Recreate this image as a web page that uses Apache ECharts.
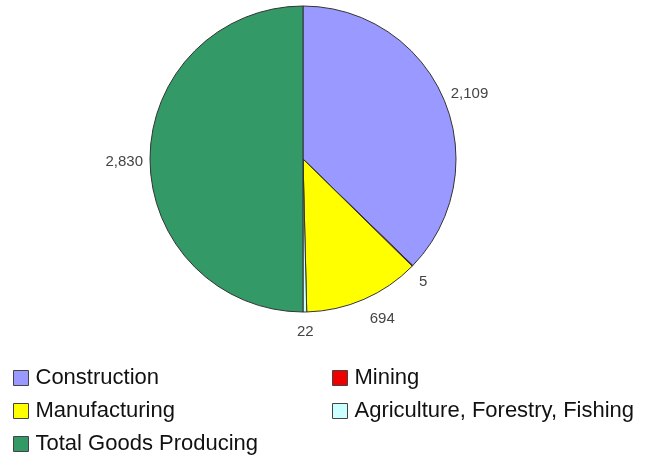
<!DOCTYPE html>
<html>
<head>
<meta charset="utf-8">
<script src="https://cdn.jsdelivr.net/npm/echarts@6/dist/echarts.min.js"></script>
<style>
  html, body { margin: 0; padding: 0; background: #fff; }
  #chart { width: 647px; height: 458px; }
</style>
</head>
<body>
<div id="chart"></div>
<script>
// Goods-producing employment by sector
const categories = ['Construction', 'Mining', 'Manufacturing', 'Agriculture, Forestry, Fishing', 'Total Goods Producing'];
const values = [2109, 5, 694, 22, 2830];
const colors = ['#9999ff', '#ee0000', '#ffff00', '#ccffff', '#339966'];

// Legend grid: two columns, entries listed row by row
const legendCells = [
  { name: 'Construction', col: 0, row: 0 },
  { name: 'Mining', col: 1, row: 0 },
  { name: 'Manufacturing', col: 0, row: 1 },
  { name: 'Agriculture, Forestry, Fishing', col: 1, row: 1 },
  { name: 'Total Goods Producing', col: 0, row: 2 }
];
const legendColX = [13, 332];
const legendRowTop = 367;
const legendRowStep = 33;

// Small offsets that drop the lower labels clear of the rim
const labelNudge = {
  'Mining': [0, 15],
  'Manufacturing': [0, 18],
  'Agriculture, Forestry, Fishing': [-13, 18],
  'Total Goods Producing': [0, 3],
  'Construction': [0, -5]
};

const chart = echarts.init(document.getElementById('chart'), null, { renderer: 'canvas' });

const legends = legendCells.map(c => ({
  left: legendColX[c.col],
  top: legendRowTop + c.row * legendRowStep,
  padding: 0,
  itemWidth: 15,
  itemHeight: 15,
  itemGap: 0,
  icon: 'rect',
  selectedMode: false,
  itemStyle: { borderColor: '#444', borderWidth: 1 },
  textStyle: { fontFamily: 'Liberation Sans, Arial, sans-serif', fontSize: 22, color: '#111', padding: [0, 0, 0, 2] },
  data: [c.name]
}));

chart.setOption({
  animation: false,
  color: colors,
  legend: legends,
  series: [{
    type: 'pie',
    center: [303, 159],
    radius: 153,
    startAngle: 90,
    clockwise: true,
    avoidLabelOverlap: false,
    minShowLabelAngle: 0,
    itemStyle: { borderColor: '#333', borderWidth: 1 },
    label: {
      show: true,
      position: 'outside',
      distanceToLabelLine: 5,
      formatter: p => p.value.toLocaleString('en-US'),
      fontFamily: 'Liberation Sans, Arial, sans-serif',
      fontSize: 15,
      color: '#444'
    },
    labelLine: { show: false, length: 2, length2: 0 },
    labelLayout: params => {
      const n = labelNudge[categories[params.dataIndex]] || [0, 0];
      return { dx: n[0], dy: n[1] };
    },
    data: categories.map((name, i) => ({ name, value: values[i] }))
  }]
});
</script>
</body>
</html>
